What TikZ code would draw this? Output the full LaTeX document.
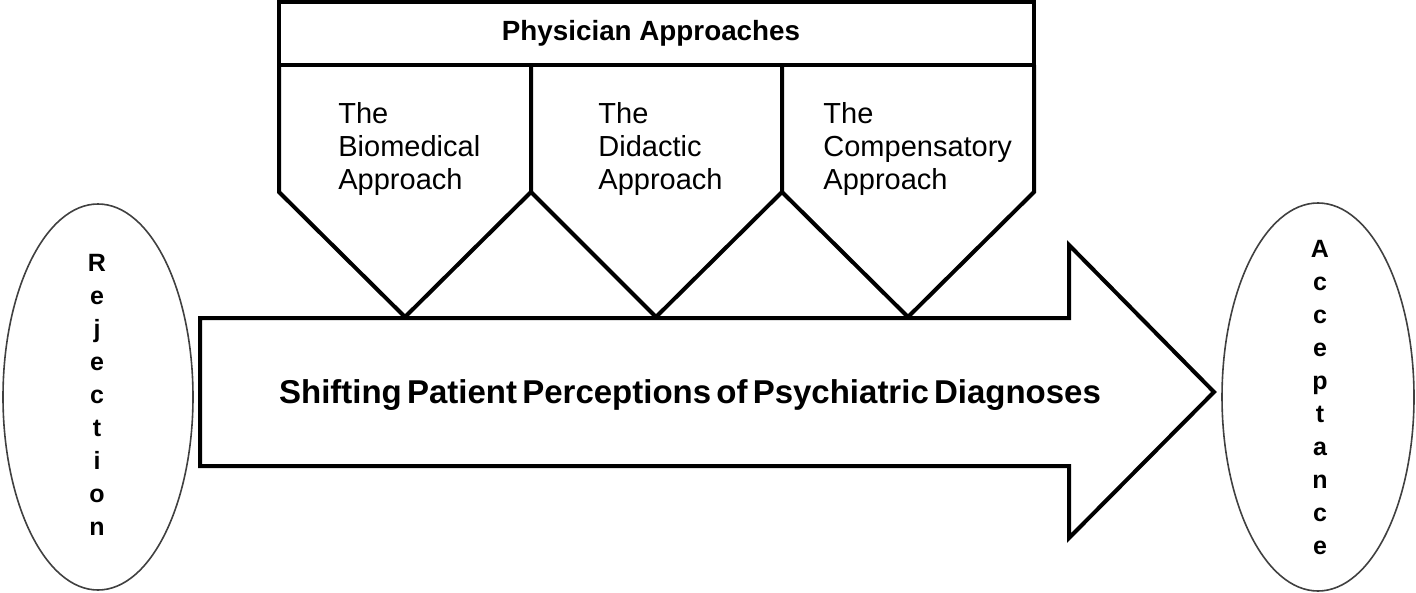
\documentclass[tikz,border=0pt]{standalone}
\usepackage{fontspec}
\setmainfont{Liberation Sans}
\begin{document}
\begin{tikzpicture}[x=0.5pt,y=-0.5pt,
  box/.style={draw=black,line width=2pt,line join=miter},
  oval/.style={draw=black!75,line width=0.8pt},
  headtxt/.style={font=\bfseries\fontsize{13.9}{16.5}\selectfont,inner sep=0pt},
  pentxt/.style={font=\fontsize{14.5}{16.5}\selectfont,align=left,anchor=north west,inner sep=0pt},
  arrowtxt/.style={font=\bfseries\fontsize{16.5}{19}\selectfont,inner sep=0pt},
  vtxt/.style={font=\bfseries\fontsize{12.5}{16.5}\selectfont,align=center,inner sep=0pt}]
\useasboundingbox (0,0) rectangle (1416,593);
% header
\draw[box] (279,2.5) rectangle (1034,65);
\node[headtxt] (head) at (651,33) {Physician Approaches};
% pentagons
\draw[box] (279,65) -- (279,192) -- (405,317) -- (531,192) -- (531,65);
\draw[box] (531,192) -- (656,317) -- (782,192) -- (782,65);
\draw[box] (782,192) -- (908,317) -- (1034,192) -- (1034,65);
\node[pentxt] (bio) at (338,102) {The\\Biomedical\\Approach};
\node[pentxt] (did) at (598,102) {The\\Didactic\\Approach};
\node[pentxt] (comp) at (823,102) {The\\Compensatory\\Approach};
% big arrow
\draw[box] (200,318) -- (1069,318) -- (1069,245) -- (1214,392) -- (1069,538) -- (1069,466) -- (200,466) -- cycle;
\node[arrowtxt] (shift) at (690,395) {\spaceskip=2.6pt Shifting Patient Perceptions of Psychiatric Diagnoses};
% ellipses
\draw[oval] (98,397) ellipse [x radius=95, y radius=193];
\draw[oval] (1318,397) ellipse [x radius=96, y radius=194];
\node[vtxt] (rej) at (97,395) {R\\e\\j\\e\\c\\t\\i\\o\\n};
\node[vtxt] (acc) at (1320,397.5) {A\\c\\c\\e\\p\\t\\a\\n\\c\\e};
\end{tikzpicture}
\end{document}
